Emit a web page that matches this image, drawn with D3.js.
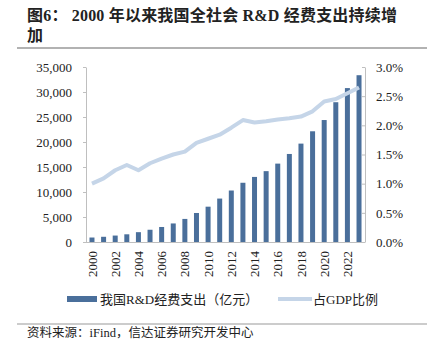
<!DOCTYPE html>
<html lang="zh">
<head>
<meta charset="UTF-8">
<script src="https://d3js.org/d3.v7.min.js"></script>
<style>
  body { margin: 0; background: #fff; }
  svg { display: block; }
  text { font-family: "Liberation Serif", "Times New Roman", "Noto Sans CJK SC", serif; fill: #222; }
</style>
</head>
<body>
<div id="chart"></div>
<script>
// 年份、经费支出（亿元）、占GDP比例（%）
const years = d3.range(2000, 2024);
const spending = [896, 1042, 1288, 1540, 1966, 2450, 3003, 3710, 4616, 5802, 7063, 8687,
                  10298, 11847, 13016, 14170, 15677, 17606, 19678, 22144, 24393, 27956, 30783, 33357];
const gdpShare = [1.00, 1.09, 1.23, 1.32, 1.23, 1.35, 1.43, 1.50, 1.55, 1.70, 1.77, 1.84,
                  1.96, 2.09, 2.05, 2.07, 2.10, 2.12, 2.15, 2.24, 2.41, 2.45, 2.55, 2.65];
const leftTicks = [0, 5000, 10000, 15000, 20000, 25000, 30000, 35000];
const rightTicks = [0, 0.5, 1.0, 1.5, 2.0, 2.5, 3.0];

const W = 427, H = 354;
const m = { left: 86, right: 365, top: 67, bottom: 242 };
const barColor = "#4a6f9b", lineColor = "#c5d5e8", axisColor = "#bfbfbf";

const svg = d3.select("#chart").append("svg").attr("width", W).attr("height", H);

// 标题
const title = svg.append("g").style("font-weight", "bold").style("font-size", "16px");
title.append("text").attr("x", 27).attr("y", 21).attr("textLength", 370).attr("lengthAdjust", "spacing")
  .text("图6：  2000 年以来我国全社会 R&D 经费支出持续增");
title.append("text").attr("x", 27).attr("y", 41).text("加");
svg.append("line").attr("x1", 17).attr("x2", W).attr("y1", 48).attr("y2", 48)
  .attr("stroke", "#999").attr("stroke-width", 1.5);

const x = d3.scaleBand().domain(years).range([m.left, m.right]).paddingInner(0.57).paddingOuter(0.3);
const yL = d3.scaleLinear().domain([0, 35000]).range([m.bottom, m.top]);
const yR = d3.scaleLinear().domain([0, 3.0]).range([m.bottom, m.top]);

// 柱
svg.selectAll("rect.bar").data(years).enter().append("rect")
  .attr("class", "bar")
  .attr("x", d => x(d))
  .attr("width", x.bandwidth())
  .attr("y", (d, i) => yL(spending[i]))
  .attr("height", (d, i) => m.bottom - yL(spending[i]))
  .attr("fill", barColor);

// 折线
const line = d3.line()
  .x((d, i) => x(years[i]) + x.bandwidth() / 2)
  .y(d => yR(d));
svg.append("path").datum(gdpShare)
  .attr("d", line).attr("fill", "none")
  .attr("stroke", lineColor).attr("stroke-width", 4).attr("stroke-linejoin", "round");

// 坐标轴
const styleAxis = g => {
  g.selectAll("path, line").attr("stroke", axisColor);
  g.selectAll("text").style("font-size", "13px").attr("fill", "#222")
    .style("font-family", "'Liberation Serif', serif");
};

svg.append("g").attr("transform", `translate(${m.left},0)`)
  .call(d3.axisLeft(yL).tickValues(leftTicks).tickSize(3).tickSizeOuter(0).tickPadding(11)
    .tickFormat(d3.format(",")))
  .call(styleAxis);

svg.append("g").attr("transform", `translate(${m.right},0)`)
  .call(d3.axisRight(yR).tickValues(rightTicks).tickSize(-3).tickSizeOuter(0).tickPadding(11)
    .tickFormat(d => d.toFixed(1) + "%"))
  .call(styleAxis);

const xa = svg.append("g").attr("transform", `translate(0,${m.bottom})`)
  .call(d3.axisBottom(x).tickValues(years.filter(d => d % 2 === 0)).tickSize(0).tickSizeOuter(0))
  .call(styleAxis);
xa.select("path").attr("d", `M${m.left},0.5H${m.right}`);
xa.selectAll("text")
  .attr("transform", "rotate(-90)")
  .attr("x", -9).attr("y", 0).attr("dy", "0.35em")
  .style("text-anchor", "end");

// 图例
const lg = svg.append("g").style("font-size", "13px");
lg.append("rect").attr("x", 67).attr("y", 296).attr("width", 30).attr("height", 6).attr("fill", barColor);
lg.append("text").attr("x", 100).attr("y", 304).text("我国R&D经费支出（亿元）");
lg.append("line").attr("x1", 278).attr("x2", 312).attr("y1", 299).attr("y2", 299)
  .attr("stroke", lineColor).attr("stroke-width", 4);
lg.append("text").attr("x", 313).attr("y", 304).text("占GDP比例");

// 来源
svg.append("line").attr("x1", 17).attr("x2", W).attr("y1", 324).attr("y2", 324)
  .attr("stroke", "#999").attr("stroke-width", 1);
svg.append("text").attr("x", 27).attr("y", 337).style("font-size", "12.5px")
  .text("资料来源：iFind，信达证券研究开发中心");
</script>
</body>
</html>
